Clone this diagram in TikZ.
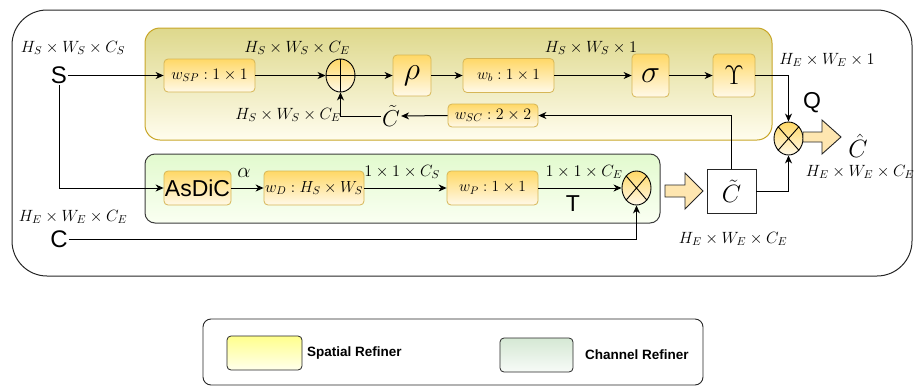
\RequirePackage{fix-cm}
\documentclass[tikz,border=0pt]{standalone}
\usepackage{fontspec}
\newfontfamily\sansfam{Liberation Sans}
\usetikzlibrary{arrows.meta,shapes.geometric}

\definecolor{spTop}{RGB}{222,216,140}
\definecolor{spBot}{RGB}{255,253,238}
\definecolor{spEdge}{RGB}{200,166,40}
\definecolor{chTop}{RGB}{226,250,206}
\definecolor{chBot}{RGB}{250,255,242}
\definecolor{chEdge}{RGB}{60,60,60}
\definecolor{unitTop}{RGB}{255,216,102}
\definecolor{unitBot}{RGB}{255,249,232}
\definecolor{unitEdge}{RGB}{214,182,86}
\definecolor{blockFill}{RGB}{254,230,176}
\definecolor{lgYTop}{RGB}{255,255,140}
\definecolor{lgYBot}{RGB}{255,255,236}
\definecolor{lgGTop}{RGB}{213,232,212}
\definecolor{lgGBot}{RGB}{247,251,247}

\newcommand\fsz[1]{\fontsize{#1}{#1}\selectfont}

\tikzset{
  unit/.style={rounded corners=4pt, draw=unitEdge, line width=0.8pt,
    top color=unitTop, bottom color=unitBot, inner sep=0pt},
  opnode/.style={ellipse, draw=black, line width=0.9pt,
    top color=unitTop, bottom color=unitBot, inner sep=0pt,
    minimum width=29pt, minimum height=33pt},
  arr/.style={-{Stealth[length=8pt,width=7pt,inset=2.5pt]}, line width=1pt},
  dimlab/.style={inner sep=0pt, font=\fsz{16.3}},
  biglab/.style={inner sep=1pt, font=\sansfam\fsz{24}},
  blockarrow/.style={draw=black!85, fill=blockFill, line width=0.9pt, line join=miter},
  legendtext/.style={anchor=west, inner sep=0pt, font=\sansfam\bfseries\fsz{13.5}}
}

\begin{document}
\begin{tikzpicture}[x=1pt,y=-1pt]
\useasboundingbox (0,0) rectangle (914,386);

% outer frame
\draw[black!85, line width=1pt, rounded corners=35pt] (12,10) rectangle (912,276);

% refiner regions
\draw[draw=spEdge, line width=1pt, top color=spTop, bottom color=spBot, rounded corners=15pt]
  (145,28) rectangle (772,140);
\draw[draw=chEdge, line width=1pt, top color=chTop, bottom color=chBot, rounded corners=10pt]
  (145,154) rectangle (660,223);

% inputs
\node[dimlab] (dimS) at (73,48) {$H_S\times W_S\times C_S$};
\node[biglab] (S) at (59,75.5) {S};
\node[dimlab] (dimC) at (73,217) {$H_E\times W_E\times C_E$};
\node[biglab] (C) at (59,239) {C};

% spatial refiner units
\node[unit, minimum width=91pt, minimum height=33pt] (wsp) at (209.5,75.5) {\fsz{16}$w_{SP}:1\times1$};
\node[opnode] (plus) at (340.5,75.5) {};
\draw[line width=0.9pt] (plus.north) -- (plus.south) (plus.west) -- (plus.east);
\node[unit, minimum width=38pt, minimum height=41pt] (rho) at (412,75.5) {\fsz{32}$\rho$};
\node[unit, minimum width=91pt, minimum height=34pt] (wb) at (508.5,75.5) {\fsz{15.5}$w_b:1\times1$};
\node[unit, minimum width=37pt, minimum height=43pt] (sig) at (650.5,75.5) {\fsz{32}$\sigma$};
\node[unit, minimum width=42pt, minimum height=43pt] (ups) at (734,75.5) {\fsz{27}$\Upsilon$};
\node[unit, minimum width=90pt, minimum height=23pt] (wsc) at (493,115.5) {\fsz{16}$w_{SC}:2\times2$};
\node[inner sep=1pt, font=\fsz{23}] (ct) at (391,116) {$\tilde{C}$};

% channel refiner units
\node[unit, minimum width=67pt, minimum height=34pt] (asd) at (197.5,188) {\sansfam\fsz{23}AsDiC};
\node[unit, minimum width=100pt, minimum height=34pt] (wd) at (314,188) {\fsz{16}$w_D:H_S\times W_S$};
\node[unit, minimum width=91pt, minimum height=34pt] (wp) at (492.5,188) {\fsz{15.5}$w_P:1\times1$};
\node[opnode, minimum height=34pt] (mulL) at (636.5,188) {};
\draw[line width=0.9pt] (mulL.north west) -- (mulL.south east) (mulL.north east) -- (mulL.south west);

% fused output
\node[draw=black!85, fill=white, line width=0.9pt, minimum width=49pt, minimum height=44pt, inner sep=0pt]
  (cbox) at (731.5,191) {\fsz{25}$\tilde{C}$};
\node[opnode] (mulU) at (788.5,138.5) {};
\draw[line width=0.9pt] (mulU.north west) -- (mulU.south east) (mulU.north east) -- (mulU.south west);

% block arrows
\draw[blockarrow] (665,185) -- (685,185) -- (685,173) -- (703,191) -- (685,209) -- (685,197) -- (665,197) -- cycle;
\draw[blockarrow] (803,132) -- (822,132) -- (822,120) -- (841,137) -- (822,154) -- (822,142) -- (803,142) -- cycle;

% labels
\node[dimlab] (d1) at (297,48) {$H_S\times W_S\times C_E$};
\node[dimlab] (d2) at (591,48) {$H_S\times W_S\times 1$};
\node[dimlab] (d3) at (288,115) {$H_S\times W_S\times C_E$};
\node[dimlab] (d4) at (827,60) {$H_E\times W_E\times 1$};
\node[dimlab] (d5) at (860,172) {$H_E\times W_E\times C_E$};
\node[dimlab] (d6) at (733,239) {$H_E\times W_E\times C_E$};
\node[dimlab] (d7) at (402,172) {$1\times1\times C_S$};
\node[dimlab] (d8) at (584,172) {$1\times1\times C_E$};
\node[inner sep=0pt, font=\fsz{21}] (alpha) at (244,173) {$\alpha$};
\node[biglab, font=\sansfam\fsz{23}] (T) at (573,204) {T};
\node[biglab, font=\sansfam\fsz{23}] (Q) at (812,103) {Q};
\node[inner sep=0pt, font=\fsz{25}] (chat) at (858,146) {$\hat{C}$};

% connectors: spatial path
\draw[arr] (S.east) -- (wsp.west);
\draw[arr] (wsp.east) -- (plus.west);
\draw[arr] (plus.east) -- (rho.west);
\draw[arr] (rho.east) -- (wb.west);
\draw[arr] (wb.east) -- (sig.west);
\draw[arr] (sig.east) -- (ups.west);
\draw[arr] (ups.east) -| (mulU.north);
\draw[arr] (cbox.north) |- (wsc.east);
\draw[arr] (wsc.west) -- (ct.east);
\draw[arr] (ct.west) -| (plus.south);

% connectors: channel path
\draw[arr] (S.south) |- (asd.west);
\draw[arr] (asd.east) -- (wd.west);
\draw[arr] (wd.east) -- (wp.west);
\draw[arr] (wp.east) -- (mulL.west);
\draw[arr] (C.east) -| (mulL.south);
\draw[arr] (cbox.east) -| (mulU.south);

% legend
\draw[black!85, line width=0.9pt, rounded corners=8pt] (203,319) rectangle (703,385);
\draw[black!85, line width=0.8pt, rounded corners=4pt, top color=lgYTop, bottom color=lgYBot]
  (227,336) rectangle (302,370);
\node[legendtext] (lgS) at (307,353) {Spatial Refiner};
\draw[black!85, line width=0.8pt, rounded corners=4pt, top color=lgGTop, bottom color=lgGBot]
  (500,338) rectangle (573,372);
\node[legendtext] (lgC) at (585,355) {Channel Refiner};
\end{tikzpicture}
\end{document}
